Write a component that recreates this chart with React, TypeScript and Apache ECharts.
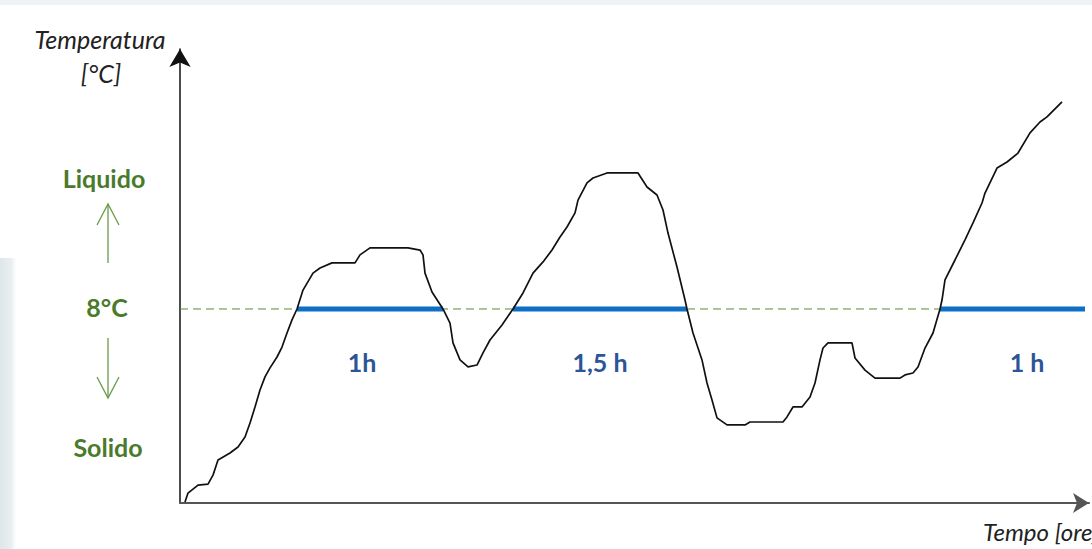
import React, { useEffect, useRef } from "react";
import * as echarts from "echarts";

// Time axis (arbitrary units) and temperature values
const timeValues = [
  0.5, 0.8, 1.8, 2.8, 3.3, 3.8, 5.0, 5.8, 6.5, 7.0, 7.5, 8.0, 8.5, 9.0, 9.7, 10.2, 10.7, 11.2, 11.7,
  12.3, 13.3, 14.0, 15.2, 17.5, 18.0, 19.0, 22.8, 24.0, 24.3, 24.5, 25.2, 26.3, 27.0, 27.3, 28.0,
  28.8, 29.7, 30.3, 31.0, 32.2, 33.3, 34.3, 35.3, 36.3, 37.2, 38.0, 38.7, 39.5, 39.8, 40.7, 41.3,
  42.7, 45.8, 46.7, 47.7, 48.3, 48.8, 49.7, 50.5, 50.7, 51.3, 52.2, 52.7, 53.2, 53.7, 54.7, 56.5,
  57.0, 60.3, 60.7, 61.3, 62.2, 63.0, 63.5, 64.0, 64.3, 64.8, 67.2, 67.5, 68.5, 69.5, 72.0, 72.5,
  73.3, 73.8, 74.5, 75.3, 76.0, 76.2, 76.5, 77.5, 78.5, 79.3, 80.2, 80.5, 81.7, 82.7, 83.8, 85.0,
  86.0, 86.7, 88.2,
];
const tempValues = [
  0.04, 0.41, 0.74, 0.78, 1.15, 1.77, 2.06, 2.31, 2.72, 3.3, 3.96, 4.66, 5.2, 5.57, 6.02, 6.43, 7.01, 7.55, 8.0,
  8.78, 9.48, 9.69, 9.9, 9.9, 10.23, 10.52, 10.52, 10.43, 10.23, 9.48, 8.7, 8.0, 7.42, 6.6, 5.9,
  5.61, 5.69, 6.19, 6.72, 7.34, 8.0, 8.66, 9.48, 9.94, 10.43, 10.97, 11.38, 11.96, 12.49, 13.2, 13.4,
  13.61, 13.61, 13.03, 12.7, 12.08, 11.13, 9.73, 8.37, 8.0, 7.01, 5.9, 4.95, 4.25, 3.51, 3.22, 3.22,
  3.34, 3.34, 3.55, 3.96, 3.96, 4.37, 4.95, 5.9, 6.39, 6.6, 6.6, 5.98, 5.48, 5.15, 5.15, 5.28,
  5.36, 5.61, 6.39, 7.01, 8.0, 8.37, 9.2, 10.02, 10.85, 11.55, 12.37, 12.78, 13.81, 14.06, 14.43, 15.26,
  15.71, 15.92, 16.54,
];

const threshold = 8;
const xMax = 90.9;
const yMax = 18.72;

// Periods above the threshold
const segStart = [11.7, 33.3, 76.0];
const segEnd = [26.3, 50.7, 90.5];
const segLabels = ["1h", "1,5 h", "1 h"];
const segLabelX = [18.2, 42.0, 84.7];
const segLabelY = 5.81;

const yTitle = ["Temperatura", "[°C]"];
const xTitle = "Tempo [ore]";
const stateLabels = ["Liquido", "8°C", "Solido"];

export default function App() {
  const ref = useRef<HTMLDivElement>(null);

  useEffect(() => {
    if (!ref.current) return;
    const chart = echarts.init(ref.current, undefined, { renderer: "svg" });
    const green = "#4A7A2B";
    const blue = "#2B5597";
    const font = "Lato, 'Open Sans', sans-serif";
    const curve = timeValues.map((t, i) => [t, tempValues[i]]);
    const segSeries = segStart.map((s, i) => ({
      type: "line",
      data: [
        [s, threshold],
        [segEnd[i], threshold],
      ],
      symbol: "none",
      lineStyle: { color: "#0F6FC6", width: 5 },
      z: 3,
      silent: true,
    }));
    const centered = (text: string, x: number, y: number, f: string, fill: string) => ({
      type: "text",
      x,
      y,
      style: { text, fill, font: f, textAlign: "center", textVerticalAlign: "middle" },
    });
    chart.setOption({
      animation: false,
      backgroundColor: "#ffffff",
      grid: { left: 180, top: 49, right: 3, bottom: 46, containLabel: false },
      xAxis: {
        type: "value",
        min: 0,
        max: xMax,
        axisLine: {
          show: true,
          lineStyle: { color: "#555555", width: 2 },
          symbol: ["none", "arrow"],
          symbolSize: [15, 16],
        },
        axisTick: { show: false },
        axisLabel: { show: false },
        splitLine: { show: false },
      },
      yAxis: {
        type: "value",
        min: 0,
        max: yMax,
        axisLine: {
          show: true,
          lineStyle: { color: "#111111", width: 1.5 },
          symbol: ["none", "arrow"],
          symbolSize: [16, 18],
        },
        axisTick: { show: false },
        axisLabel: { show: false },
        splitLine: { show: false },
      },
      series: [
        {
          type: "line",
          data: [
            [0, threshold],
            [xMax, threshold],
          ],
          symbol: "none",
          lineStyle: { color: "#5A8A3C", width: 1, type: [8, 5] },
          z: 2,
          silent: true,
        },
        ...segSeries,
        {
          type: "line",
          data: curve,
          symbol: "none",
          lineStyle: { color: "#111111", width: 1.7 },
          z: 4,
          silent: true,
        },
        {
          type: "scatter",
          data: segLabelX.map((x, i) => ({ value: [x, segLabelY], name: segLabels[i] })),
          symbolSize: 0,
          itemStyle: { opacity: 1 },
          label: {
            show: true,
            position: "inside",
            formatter: (p: any) => p.name,
            color: blue,
            opacity: 1,
            fontFamily: font,
            fontWeight: "bold",
            fontSize: 25,
          },
          z: 5,
          silent: true,
        },
      ],
      graphic: [
        {
          type: "rect",
          shape: { x: 0, y: 0, width: 1092, height: 5 },
          style: { fill: "#eef2f5" },
          silent: true,
        },
        {
          type: "rect",
          shape: { x: 0, y: 258, width: 16, height: 291 },
          style: {
            fill: new echarts.graphic.LinearGradient(0, 0, 1, 0, [
              { offset: 0, color: "#dde6e9" },
              { offset: 0.7, color: "#e9eff1" },
              { offset: 1, color: "#ffffff" },
            ]),
          },
          silent: true,
        },
        centered(yTitle[0], 100, 39, `italic 25px ${font}`, "#222"),
        centered(yTitle[1], 101, 73, `italic 25px ${font}`, "#222"),
        {
          type: "text",
          x: 983,
          y: 531,
          style: {
            text: xTitle,
            fill: "#222",
            font: `italic 24px ${font}`,
            textAlign: "left",
            textVerticalAlign: "middle",
          },
        },
        centered(stateLabels[0], 104, 178, `bold 25px ${font}`, green),
        centered(stateLabels[1], 107, 307, `bold 25px ${font}`, green),
        centered(stateLabels[2], 108, 447, `bold 25px ${font}`, green),
        {
          type: "line",
          shape: { x1: 108, y1: 263, x2: 108, y2: 204 },
          style: { stroke: "#6A9A4A", lineWidth: 1.3 },
        },
        {
          type: "polyline",
          shape: { points: [[97, 225], [108, 204], [119, 225]] },
          style: { stroke: "#6A9A4A", lineWidth: 1.3, fill: "none" },
        },
        {
          type: "line",
          shape: { x1: 108, y1: 338, x2: 108, y2: 398 },
          style: { stroke: "#6A9A4A", lineWidth: 1.3 },
        },
        {
          type: "polyline",
          shape: { points: [[97, 377], [108, 398], [119, 377]] },
          style: { stroke: "#6A9A4A", lineWidth: 1.3, fill: "none" },
        },
      ],
    });
    return () => chart.dispose();
  }, []);

  return (
    <div
      ref={ref}
      style={{ position: "fixed", left: 0, top: 0, width: 1092, height: 549 }}
    />
  );
}
